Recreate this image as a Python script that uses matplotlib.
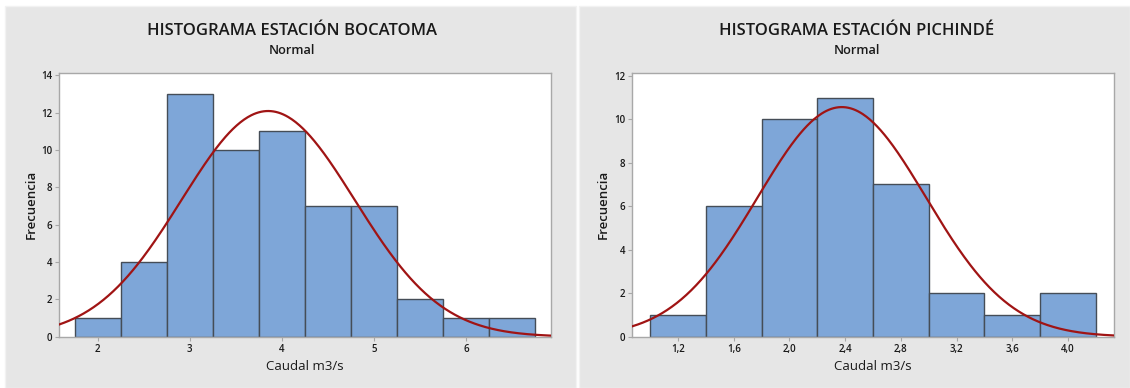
import numpy as np
import matplotlib
matplotlib.use("Agg")
import matplotlib.pyplot as plt
from matplotlib.patches import Rectangle

# ---- data ----
boc_centers = [2.0, 2.5, 3.0, 3.5, 4.0, 4.5, 5.0, 5.5, 6.0, 6.5]
boc_counts = [1, 4, 13, 10, 11, 7, 7, 2, 1, 1]
boc_binwidth = 0.5
boc_mean = 3.851
boc_sd = 0.940
boc_xticks = [2, 3, 4, 5, 6]
boc_xticklabels = ["2", "3", "4", "5", "6"]
boc_yticks = [0, 2, 4, 6, 8, 10, 12, 14]
boc_xlim = (1.579, 6.924)
boc_ylim = (0, 14.16)

pic_centers = [1.2, 1.6, 2.0, 2.4, 2.8, 3.2, 3.6, 4.0]
pic_counts = [1, 6, 10, 11, 7, 2, 1, 2]
pic_binwidth = 0.4
pic_mean = 2.376
pic_sd = 0.6045
pic_xticks = [1.2, 1.6, 2.0, 2.4, 2.8, 3.2, 3.6, 4.0]
pic_xticklabels = ["1,2", "1,6", "2,0", "2,4", "2,8", "3,2", "3,6", "4,0"]
pic_yticks = [0, 2, 4, 6, 8, 10, 12]
pic_xlim = (0.870, 4.330)
pic_ylim = (0, 12.15)

titles = ["HISTOGRAMA ESTACIÓN BOCATOMA", "HISTOGRAMA ESTACIÓN PICHINDÉ"]
subtitle = "Normal"
xlabel = "Caudal m3/s"
ylabel = "Frecuencia"

plt.rcParams['font.family'] = ['Open Sans', 'DejaVu Sans']

W, H = 1130, 388
fig = plt.figure(figsize=(W / 100, H / 100), dpi=100)
fig.patch.set_facecolor("white")

PANEL = "#e6e6e6"
BAR = "#7ea6d8"
EDGE = "#454d57"
CURVE = "#a01414"
SPINE = "#a8a8a8"
TXT = "#1a1a1a"

def px(x, y):
    return x / W, 1 - y / H

# panel backgrounds
for x0, x1 in [(5, 576), (579, 1130)]:
    fig.add_artist(Rectangle(px(x0, H), (x1 - x0) / W, (H - 6) / H,
                             transform=fig.transFigure, facecolor=PANEL,
                             edgecolor="#f2f2f2", linewidth=1.0, zorder=0))

specs = [
    dict(box=(59, 551), centers=boc_centers, counts=boc_counts, bw=boc_binwidth,
         mean=boc_mean, sd=boc_sd, xticks=boc_xticks, xtl=boc_xticklabels,
         yticks=boc_yticks, xlim=boc_xlim, ylim=boc_ylim, title=titles[0],
         tx=292, ylx=31, xlx=305),
    dict(box=(632, 1114), centers=pic_centers, counts=pic_counts, bw=pic_binwidth,
         mean=pic_mean, sd=pic_sd, xticks=pic_xticks, xtl=pic_xticklabels,
         yticks=pic_yticks, xlim=pic_xlim, ylim=pic_ylim, title=titles[1],
         tx=857, ylx=603, xlx=873),
]

top, bot = 72.5, 336.7
for s in specs:
    l, r = s["box"]
    ax = fig.add_axes([l / W, 1 - bot / H, (r - l) / W, (bot - top) / H])
    ax.set_facecolor("white")
    ax.bar(s["centers"], s["counts"], width=s["bw"], color=BAR,
           edgecolor=EDGE, linewidth=1.0, zorder=2)
    xs = np.linspace(s["xlim"][0], s["xlim"][1], 400)
    n = sum(s["counts"])
    ys = n * s["bw"] * np.exp(-0.5 * ((xs - s["mean"]) / s["sd"]) ** 2) / (s["sd"] * np.sqrt(2 * np.pi))
    ax.plot(xs, ys, color=CURVE, linewidth=1.6, zorder=3)
    ax.set_xlim(*s["xlim"])
    ax.set_ylim(*s["ylim"])
    ax.set_xticks(s["xticks"])
    ax.set_xticklabels(s["xtl"])
    ax.set_yticks(s["yticks"])
    for sp in ax.spines.values():
        sp.set_color(SPINE)
        sp.set_linewidth(1.0)
    ax.tick_params(axis="both", length=3, width=0.8, color=SPINE,
                   labelsize=7, labelcolor=TXT, pad=2)
    for lab in ax.get_xticklabels() + ax.get_yticklabels():
        lab.set_fontweight("semibold")
    fig.text(*px(s["tx"], 31), s["title"], ha="center", va="center",
             fontsize=12, fontweight="semibold", color=TXT)
    fig.text(*px(s["tx"], 51), subtitle, ha="center", va="center",
             fontsize=9.2, fontweight="semibold", color=TXT)
    fig.text(*px(s["xlx"], 367), xlabel, ha="center", va="center",
             fontsize=9.5, color=TXT)
    fig.text(*px(s["ylx"], 204), ylabel, ha="center", va="center",
             rotation=90, fontsize=9.5, fontweight="semibold", color=TXT)

fig.savefig("out.png", dpi=100, facecolor=fig.get_facecolor())
